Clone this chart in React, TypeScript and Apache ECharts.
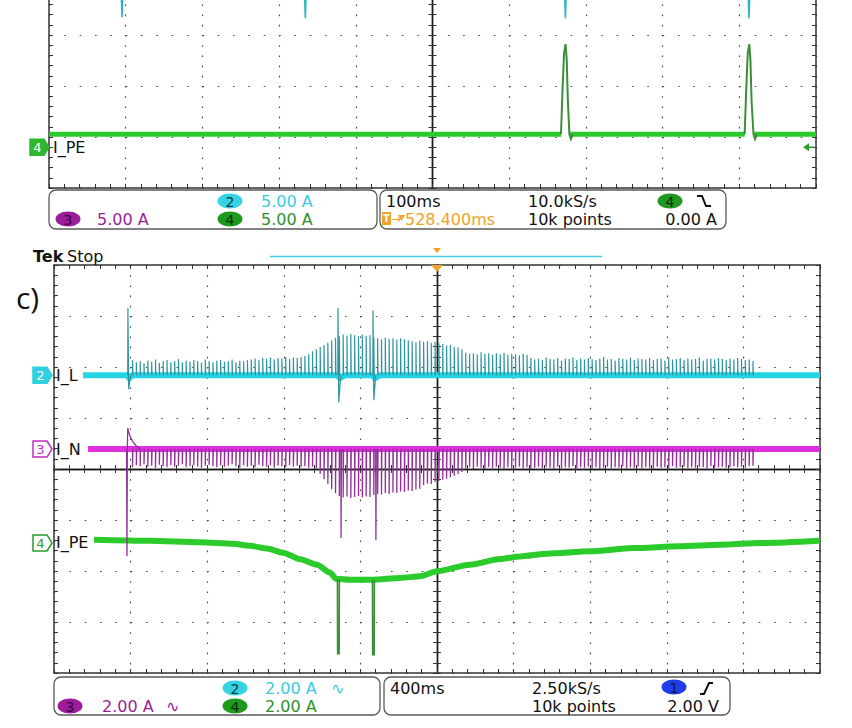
import React, { useEffect, useRef } from "react";
import * as echarts from "echarts";

// ================= TOP PANEL (cropped): 100 ms/div, 5.00 A/div =================
const TOP_T_MIN = -500;
const TOP_T_MAX = 500;
const TOP_T_DIV = 100;
const TOP_A_PER_DIV = 5;
const TOP_CH2_POS = 0.5; // divisions (ground marker of ch2 lies above the visible crop)
const TOP_CH4_POS = -3.2; // divisions

// I_PE (ch4) noise band, null = gap where the trace is a fast pulse
const TOP_PE_BAND_T = [-500, 167.5, 170, 179, 407, 410, 418.5, 500];
const TOP_PE_BAND_A = [1.27, 1.27, null, 1.27, 1.27, null, 1.27, 1.27];
// I_PE pulses
const TOP_PE_PULSE1_T = [167.5, 169.5, 171.5, 173.5, 175, 176.5, 178.5, 180.5, 183];
const TOP_PE_PULSE1_A = [1.27, 5.6, 9.2, 10.1, 8.6, 4.5, 1.27, 0.8, 1.27];
const TOP_PE_PULSE2_T = [407, 409, 411, 413, 414.5, 416, 418.5, 420.5, 423];
const TOP_PE_PULSE2_A = [1.27, 5.6, 9.2, 10.1, 8.6, 4.5, 1.27, 0.8, 1.27];
// I_L (ch2) spikes reaching down into the crop
const TOP_IL_SPIKE_T = [-404.8, -165.8, 173.3, 412.6];
const TOP_IL_SPIKE_A = [-5.75, -5.85, -5.85, -5.85];

// ================= BOTTOM PANEL c): 400 ms/div, 2.00 A/div =================
const BOT_T_MIN = -2000;
const BOT_T_MAX = 2000;
const BOT_T_DIV = 400;
const BOT_A_PER_DIV = 2;
const CH2_POS = 1.84; // I_L ground (divisions)
const CH3_POS = 0.39; // I_N ground
const CH4_POS = -1.45; // I_PE ground

// regular 20 ms (mains) switching spikes
const SPIKE_T0_MS = -1590;
const MAINS_PERIOD_MS = 20;

const IL_SPIKE_A = [
  0.59, 0.51, 0.55, 0.47, 0.57, 0.53, 0.61, 0.49, 0.55, 0.59, 0.51, 0.55, 0.63, 0.51, 0.57, 0.53,
  0.59, 0.55, 0.49, 0.61, 0.55, 0.51, 0.57, 0.59, 0.53, 0.55, 0.61, 0.51, 0.57, 0.55, 0.59,
  0.61, 0.65, 0.59, 0.67, 0.63, 0.69, 0.61, 0.67, 0.65, 0.71, 0.63, 0.69, 0.67,
  0.71, 0.75, 0.82, 0.94, 1.02, 1.1, 1.18, 1.27, 1.37, 1.47,
  1.53, 1.59, 1.55, 1.61, 1.57, 1.53, 1.59, 1.55, 1.57,
  1.49, 1.45, 1.41, 1.47, 1.43, 1.45, 1.39, 1.45, 1.41,
  1.37, 1.33, 1.29, 1.35, 1.31, 1.33, 1.27, 1.31, 1.25,
  1.22, 1.16, 1.18, 1.1, 1.08, 1.02,
  0.88, 0.84, 0.86, 0.82, 0.9, 0.84, 0.86, 0.8, 0.86, 0.82, 0.88, 0.8, 0.84, 0.82, 0.78, 0.84, 0.8,
  0.67, 0.61, 0.65, 0.59, 0.69, 0.63, 0.61, 0.67, 0.57, 0.65,
  0.63, 0.69, 0.59, 0.65, 0.61, 0.67, 0.63, 0.59, 0.65, 0.71,
  0.61, 0.63, 0.57, 0.67, 0.63, 0.61, 0.69, 0.59, 0.65, 0.63,
  0.61, 0.67, 0.59, 0.63, 0.65, 0.57, 0.69, 0.61, 0.63, 0.67,
  0.59, 0.65, 0.61, 0.63, 0.69, 0.57, 0.63, 0.65, 0.61, 0.67,
  0.63, 0.59, 0.65, 0.61, 0.67, 0.63, 0.59, 0.61, 0.55,
];

const IN_SPIKE_A = [
  -0.71, -0.63, -0.67, -0.59, -0.69, -0.65, -0.73, -0.61, -0.67, -0.71,
  -0.63, -0.69, -0.65, -0.59, -0.71, -0.67, -0.63, -0.69, -0.73, -0.65,
  -0.61, -0.67, -0.71, -0.63, -0.69, -0.65, -0.59, -0.67, -0.73, -0.63,
  -0.69, -0.65, -0.71, -0.61, -0.67, -0.69, -0.63, -0.73, -0.65, -0.67,
  -0.71, -0.63, -0.69, -0.65, -0.71, -0.67, -0.73, -0.69, -0.75,
  -0.98, -1.18, -1.37, -1.57, -1.73,
  -1.84, -1.9, -1.86, -1.92, -1.88, -1.84, -1.9, -1.86, -1.88,
  -1.8, -1.76, -1.78, -1.72, -1.76, -1.7, -1.72, -1.66, -1.68, -1.62, -1.64, -1.58, -1.55,
  -1.41, -1.35, -1.37, -1.29, -1.25, -1.2, -1.16, -1.1, -1.04, -0.98, -0.9,
  -0.75, -0.71, -0.78, -0.69, -0.73, -0.77, -0.71, -0.75, -0.69, -0.73,
  -0.77, -0.71, -0.75, -0.73, -0.69, -0.75, -0.71, -0.77, -0.73, -0.69,
  -0.75, -0.71, -0.73, -0.77, -0.69, -0.75, -0.71, -0.73, -0.67, -0.75,
  -0.71, -0.73, -0.69, -0.75, -0.71, -0.77, -0.73, -0.69, -0.75, -0.71,
  -0.73, -0.67, -0.75, -0.71, -0.73, -0.69, -0.75, -0.71, -0.73, -0.77,
  -0.69, -0.73, -0.71, -0.75, -0.67, -0.73, -0.71, -0.69, -0.75, -0.71,
  -0.73, -0.69, -0.71, -0.75, -0.67, -0.73, -0.71, -0.69, -0.73, -0.71,
  -0.67, -0.71, -0.69, -0.73, -0.67, -0.65,
];

// I_L noise band and transient events
const IL_BAND_T = [-1849, -1617, -1607, -1590, -519, -507, -480, -336, -324, -297, 2000];
const IL_BAND_A = [0, 0, -0.12, 0, 0, -0.12, 0, 0, -0.12, 0, 0];
const IL_EVENT_T = [-1614, -517, -334];
const IL_EVENT_PEAK = [2.63, 2.63, 2.55];
const IL_EVENT_DIP = [-0.55, -1.06, -0.98];

// I_N noise band, inrush decay and transient events
const IN_BAND_T = [-1822, 2000];
const IN_BAND_A = [0, 0];
const IN_INRUSH_T = [-1621, -1619, -1617, -1615, -1608, -1598, -1585, -1570, -1552];
const IN_INRUSH_A = [0, -4.2, 0, 0.82, 0.62, 0.42, 0.25, 0.12, 0];
const IN_EVENT_T = [-501, -319];
const IN_EVENT_LOW = [-3.49, -3.57];

// I_PE slow curve and transient events
const PE_T = [-1791, -1499, -1238, -1065, -977, -888, -804, -715, -627, -559, -527, -454, -334, -193, -89, 0, 172, 329, 433, 574, 799, 1023, 1269, 1478, 1687, 2000];
const PE_A = [0.13, 0.09, 0.03, -0.03, -0.11, -0.22, -0.38, -0.64, -0.85, -1.16, -1.4, -1.44, -1.44, -1.37, -1.31, -1.11, -0.85, -0.63, -0.53, -0.42, -0.33, -0.2, -0.13, -0.07, 0, 0.09];
const PE_EVENT_T = [-517, -334];
const PE_EVENT_BASE = [-1.42, -1.44];
const PE_EVENT_LOW = [-4.34, -4.38];

// ================= styling =================
const FONT = '"DejaVu Sans", Verdana, sans-serif';
const AX = "#333333";
const DOT = "#4a4a4a";
const CYAN_BAND = "#25d4e4";
const CYAN_SPIKE = "#2f95a0";
const MAG_BAND = "#de2ede";
const MAG_SPIKE = "#92309a";
const GRN_BAND = "#2acb2a";
const GRN_SPIKE = "#3a8f3a";

const toDiv = (a: number, pos: number, k: number) => pos + a / k;
const bandData = (ts: number[], as: (number | null)[], pos: number, k: number) =>
  ts.map((t, i) => [t, as[i] == null ? "-" : toDiv(as[i] as number, pos, k)]);

function axesFor(gridIndex: number, tMin: number, tMax: number, tInt: number, xBase: number, yBase: number, dotX: number[], dotY: number[]) {
  const line = (onZero: boolean, idx?: number) => ({
    show: true,
    onZero,
    ...(onZero ? { onZeroAxisIndex: idx } : {}),
    lineStyle: { color: onZero ? "#1a1a1a" : AX, width: onZero ? 1.4 : 1.5 },
  });
  const tick = (inside: boolean) => ({ show: true, inside, length: 4, lineStyle: { color: AX, width: 1 } });
  const minor = { show: true, splitNumber: 5, length: 4, lineStyle: { color: AX, width: 1 } };
  const base = (min: number, max: number, interval: number) => ({
    type: "value",
    gridIndex,
    min,
    max,
    interval,
    axisLabel: { show: false },
    minorSplitLine: { show: false },
  });
  const xs = [
    { ...base(tMin, tMax, tInt), position: "bottom", axisLine: line(false), axisTick: tick(true), minorTick: minor, splitLine: { show: true, lineStyle: { color: DOT, width: 1.2, type: dotX } } },
    { ...base(tMin, tMax, tInt), position: "top", axisLine: line(false), axisTick: tick(true), minorTick: minor, splitLine: { show: false } },
    { ...base(tMin, tMax, tInt), position: "bottom", axisLine: line(true, yBase), axisTick: tick(true), minorTick: minor, splitLine: { show: false } },
    { ...base(tMin, tMax, tInt), position: "bottom", axisLine: line(true, yBase), axisTick: tick(false), minorTick: minor, splitLine: { show: false } },
  ];
  const ys = [
    { ...base(-4, 4, 1), position: "left", axisLine: line(false), axisTick: tick(true), minorTick: minor, splitLine: { show: true, lineStyle: { color: DOT, width: 1.2, type: dotY } } },
    { ...base(-4, 4, 1), position: "right", axisLine: line(false), axisTick: tick(true), minorTick: minor, splitLine: { show: false } },
    { ...base(-4, 4, 1), position: "left", axisLine: line(true, xBase), axisTick: tick(true), minorTick: minor, splitLine: { show: false } },
    { ...base(-4, 4, 1), position: "left", axisLine: line(true, xBase), axisTick: tick(false), minorTick: minor, splitLine: { show: false } },
  ];
  return { xs, ys };
}

function buildOption() {
  const top = axesFor(0, TOP_T_MIN, TOP_T_MAX, TOP_T_DIV, 0, 0, [1.6, 8.6], [1.6, 13.74]);
  const bot = axesFor(1, BOT_T_MIN, BOT_T_MAX, BOT_T_DIV, 4, 4, [1.6, 8.6], [1.6, 13.72]);

  const lineSeries = (name: string, xi: number, data: any[], color: string, width: number, z = 2, smooth: any = false) => ({
    name,
    type: "line",
    xAxisIndex: xi,
    yAxisIndex: xi,
    data,
    symbol: "none",
    silent: true,
    connectNulls: false,
    smooth,
    smoothMonotone: "x",
    z,
    lineStyle: { color, width, join: "round" },
  });
  const linesSeries = (name: string, xi: number, polys: number[][][], color: string, width: number, z = 3) => ({
    name,
    type: "lines",
    coordinateSystem: "cartesian2d",
    xAxisIndex: xi,
    yAxisIndex: xi,
    polyline: true,
    silent: true,
    z,
    lineStyle: { color, width, opacity: 1, curveness: 0 },
    data: polys.map((c) => ({ coords: c })),
  });

  // top panel marks
  const topPulses = [
    TOP_PE_PULSE1_T.map((t, i) => [t, toDiv(TOP_PE_PULSE1_A[i], TOP_CH4_POS, TOP_A_PER_DIV)]),
    TOP_PE_PULSE2_T.map((t, i) => [t, toDiv(TOP_PE_PULSE2_A[i], TOP_CH4_POS, TOP_A_PER_DIV)]),
  ];
  const topIl = TOP_IL_SPIKE_T.map((t, i) => [
    [t - 2.5, toDiv(0, TOP_CH2_POS, TOP_A_PER_DIV)],
    [t, toDiv(TOP_IL_SPIKE_A[i], TOP_CH2_POS, TOP_A_PER_DIV)],
    [t + 2.5, toDiv(0, TOP_CH2_POS, TOP_A_PER_DIV)],
  ]);

  // bottom panel marks
  const k = BOT_A_PER_DIV;
  const ilSpikes = IL_SPIKE_A.map((a, i) => {
    const t = SPIKE_T0_MS + i * MAINS_PERIOD_MS;
    return [[t, toDiv(0, CH2_POS, k)], [t, toDiv(a, CH2_POS, k)], [t + 2, toDiv(0, CH2_POS, k)]];
  });
  const ilEvents = IL_EVENT_T.map((t, i) => [
    [t - 1, toDiv(0, CH2_POS, k)],
    [t, toDiv(IL_EVENT_PEAK[i], CH2_POS, k)],
    [t + 4, toDiv(IL_EVENT_DIP[i], CH2_POS, k)],
    [t + 14, toDiv(0, CH2_POS, k)],
  ]);
  const inSpikes = IN_SPIKE_A.map((a, i) => {
    const t = SPIKE_T0_MS + i * MAINS_PERIOD_MS;
    return [[t, toDiv(0, CH3_POS, k)], [t, toDiv(a, CH3_POS, k)], [t + 2, toDiv(0, CH3_POS, k)]];
  });
  const inEvents = IN_EVENT_T.map((t, i) => [
    [t - 1, toDiv(0, CH3_POS, k)],
    [t, toDiv(IN_EVENT_LOW[i], CH3_POS, k)],
    [t + 2, toDiv(0, CH3_POS, k)],
  ]);
  const inInrush = [IN_INRUSH_T.map((t, i) => [t, toDiv(IN_INRUSH_A[i], CH3_POS, k)])];
  const peEvents = PE_EVENT_T.map((t, i) => [
    [t - 3, toDiv(PE_EVENT_BASE[i], CH4_POS, k)],
    [t - 2, toDiv(PE_EVENT_LOW[i], CH4_POS, k)],
    [t + 6, toDiv(PE_EVENT_LOW[i], CH4_POS, k)],
    [t + 7, toDiv(PE_EVENT_BASE[i], CH4_POS, k)],
  ]);

  return {
    animation: false,
    backgroundColor: "#ffffff",
    grid: [
      { left: 49, top: -220, width: 767, height: 408, show: false, outerBoundsMode: "none", containLabel: false },
      { left: 54, top: 265, width: 766, height: 408, show: false, outerBoundsMode: "none", containLabel: false },
    ],
    xAxis: [...top.xs, ...bot.xs],
    yAxis: [...top.ys, ...bot.ys],
    series: [
      lineSeries("I_PE top", 0, bandData(TOP_PE_BAND_T, TOP_PE_BAND_A, TOP_CH4_POS, TOP_A_PER_DIV), GRN_BAND, 5),
      linesSeries("I_PE top pulses", 0, topPulses, GRN_SPIKE, 2),
      linesSeries("I_L top spikes", 0, topIl, "#2fb4c2", 1.6),

      lineSeries("I_PE", 4, bandData(PE_T, PE_A, CH4_POS, k), GRN_BAND, 6, 2, 0.25),
      linesSeries("I_PE events", 4, peEvents, GRN_SPIKE, 1.6),
      lineSeries("I_L", 4, bandData(IL_BAND_T, IL_BAND_A, CH2_POS, k), CYAN_BAND, 6),
      linesSeries("I_L spikes", 4, [...ilSpikes, ...ilEvents], CYAN_SPIKE, 1.2),
      lineSeries("I_N", 4, bandData(IN_BAND_T, IN_BAND_A, CH3_POS, k), MAG_BAND, 6),
      linesSeries("I_N spikes", 4, [...inSpikes, ...inEvents, ...inInrush], MAG_SPIKE, 1.3, 4),
    ],
  };
}

const txt = (x: number, y: number, text: string, fill: string, size = 16, align = "left", weight = "normal", family = FONT) => ({
  type: "text",
  x,
  y,
  z: 100,
  style: { text, fill, font: `${weight} ${size}px ${family}`, align, verticalAlign: "middle" },
});
const badge = (cx: number, cy: number, num: string, fill: string, fg: string) => [
  { type: "ellipse", z: 100, shape: { cx, cy, rx: 12.5, ry: 7.5 }, style: { fill } },
  txt(cx, cy + 0.5, num, fg, 14, "center"),
];
const box = (x: number, y: number, w: number, h: number) => ({
  type: "rect",
  z: 100,
  shape: { x, y, width: w, height: h, r: 7 },
  style: { fill: "none", stroke: "#5a5a5a", lineWidth: 1.3 },
});
const marker = (x0: number, cy: number, num: string, label: string, color: string, filled: boolean) => [
  {
    type: "polygon",
    z: 100,
    shape: { points: [[x0, cy - 8], [x0 + 14, cy - 8], [x0 + 19, cy], [x0 + 14, cy + 8], [x0, cy + 8]] },
    style: { fill: filled ? color : "#ffffff", stroke: color, lineWidth: 1.5 },
  },
  txt(x0 + 7.5, cy + 0.5, num, filled ? "#ffffff" : color, 13, "center"),
  txt(x0 + 23, cy, label, "#111111", 16),
];

function buildGraphics(yTop: (v: number) => number, yBot: (v: number) => number, xBot: (v: number) => number) {
  const yPeTop = yTop(TOP_CH4_POS);
  const y2 = yBot(CH2_POS);
  const y3 = yBot(CH3_POS);
  const y4 = yBot(CH4_POS);
  const xc = xBot(0);
  const CY = "#3acbdc";
  const MG = "#9a1e9a";
  const GR = "#2a922a";
  const OR = "#f0a22a";
  return [
    // ---- top panel decorations
    ...marker(30, yPeTop, "4", "I_PE", "#2fb82f", true),
    { type: "polygon", z: 100, shape: { points: [[803, yPeTop], [809, yPeTop - 4], [809, yPeTop + 4]] }, style: { fill: "#2aa02a" } },
    { type: "line", z: 100, shape: { x1: 809, y1: yPeTop, x2: 814, y2: yPeTop }, style: { stroke: "#2aa02a", lineWidth: 1.5 } },
    box(49, 190, 328, 39),
    box(380, 190, 346, 39),
    ...badge(230, 201, "2", "#35d3e3", "#0b3d44"),
    txt(261, 201, "5.00 A", CY),
    ...badge(68, 219, "3", "#9c1c9c", "#3a003a"),
    txt(97, 219, "5.00 A", MG),
    ...badge(230, 219, "4", "#1d9a1d", "#072a07"),
    txt(261, 219, "5.00 A", GR),
    txt(386, 201, "100ms", "#111"),
    txt(528, 201, "10.0kS/s", "#111"),
    ...badge(670, 201, "4", "#1d9a1d", "#072a07"),
    { type: "polyline", z: 100, shape: { points: [[697, 196], [702, 196], [706, 206], [711, 206]] }, style: { stroke: "#111", lineWidth: 2, fill: "none" } },
    { type: "rect", z: 100, shape: { x: 382, y: 212, width: 9, height: 13 }, style: { fill: OR } },
    txt(386.5, 218.8, "T", "#ffffff", 10, "center", "bold"),
    txt(391.5, 219, "→", OR, 11),
    { type: "polygon", z: 100, shape: { points: [[398, 215], [405, 215], [401.5, 221]] }, style: { fill: OR } },
    txt(405, 219, "528.400ms", OR),
    txt(528, 219, "10k points", "#111"),
    txt(717, 219, "0.00 A", "#111", 16, "right"),

    // ---- bottom panel header
    txt(33, 256, "Tek", "#111", 16, "left", "bold"),
    txt(67, 256, "Stop", "#111", 16),
    txt(16, 297, "c)", "#111", 30, "left", "normal", '"Open Sans", "Noto Sans", sans-serif'),
    { type: "line", z: 100, shape: { x1: 270, y1: 256.5, x2: 602, y2: 256.5 }, style: { stroke: "#40cfe0", lineWidth: 1.5 } },
    { type: "polygon", z: 100, shape: { points: [[xc - 4, 248], [xc + 4, 248], [xc, 253]] }, style: { fill: OR } },
    { type: "polygon", z: 100, shape: { points: [[xc - 6, 265], [xc + 6, 265], [xc, 272]] }, style: { fill: OR } },

    // ---- channel markers
    ...marker(33, y2, "2", "I_L", "#2fd0e0", true),
    ...marker(33, y3, "3", "I_N", "#c12ec1", false),
    ...marker(33, y4, "4", "I_PE", "#2a9a2a", false),

    // ---- bottom info bar
    box(54, 677, 326, 38),
    box(384, 677, 346, 38),
    ...badge(235, 688, "2", "#35d3e3", "#0b3d44"),
    txt(265, 688, "2.00 A", CY),
    txt(331, 688, "∿", CY),
    ...badge(70, 706, "3", "#9c1c9c", "#3a003a"),
    txt(102, 706, "2.00 A", MG),
    txt(166, 706, "∿", MG),
    ...badge(235, 706, "4", "#1d9a1d", "#072a07"),
    txt(265, 706, "2.00 A", GR),
    txt(390, 688, "400ms", "#111"),
    txt(532, 688, "2.50kS/s", "#111"),
    ...badge(674, 687, "1", "#1f3fe6", "#0a1450"),
    { type: "polyline", z: 100, shape: { points: [[700, 694], [704, 694], [709, 683], [713, 683]] }, style: { stroke: "#111", lineWidth: 2, fill: "none" } },
    txt(532, 706, "10k points", "#111"),
    txt(719, 706, "2.00 V", "#111", 16, "right"),
  ];
}

export default function App() {
  const ref = useRef<HTMLDivElement>(null);
  useEffect(() => {
    document.body.style.margin = "0";
    const chart = echarts.init(ref.current as HTMLDivElement, null, { renderer: "svg", width: 852, height: 728 });
    chart.setOption(buildOption() as any);
    const yTop = (v: number) => chart.convertToPixel({ yAxisIndex: 0 } as any, v) as unknown as number;
    const yBot = (v: number) => chart.convertToPixel({ yAxisIndex: 4 } as any, v) as unknown as number;
    const xBot = (v: number) => chart.convertToPixel({ xAxisIndex: 4 } as any, v) as unknown as number;
    chart.setOption({ graphic: { elements: buildGraphics(yTop, yBot, xBot) } } as any);
    return () => chart.dispose();
  }, []);
  return (
    <div
      ref={ref}
      style={{ position: "absolute", left: 0, top: 0, width: 852, height: 728, background: "#ffffff" }}
    />
  );
}
